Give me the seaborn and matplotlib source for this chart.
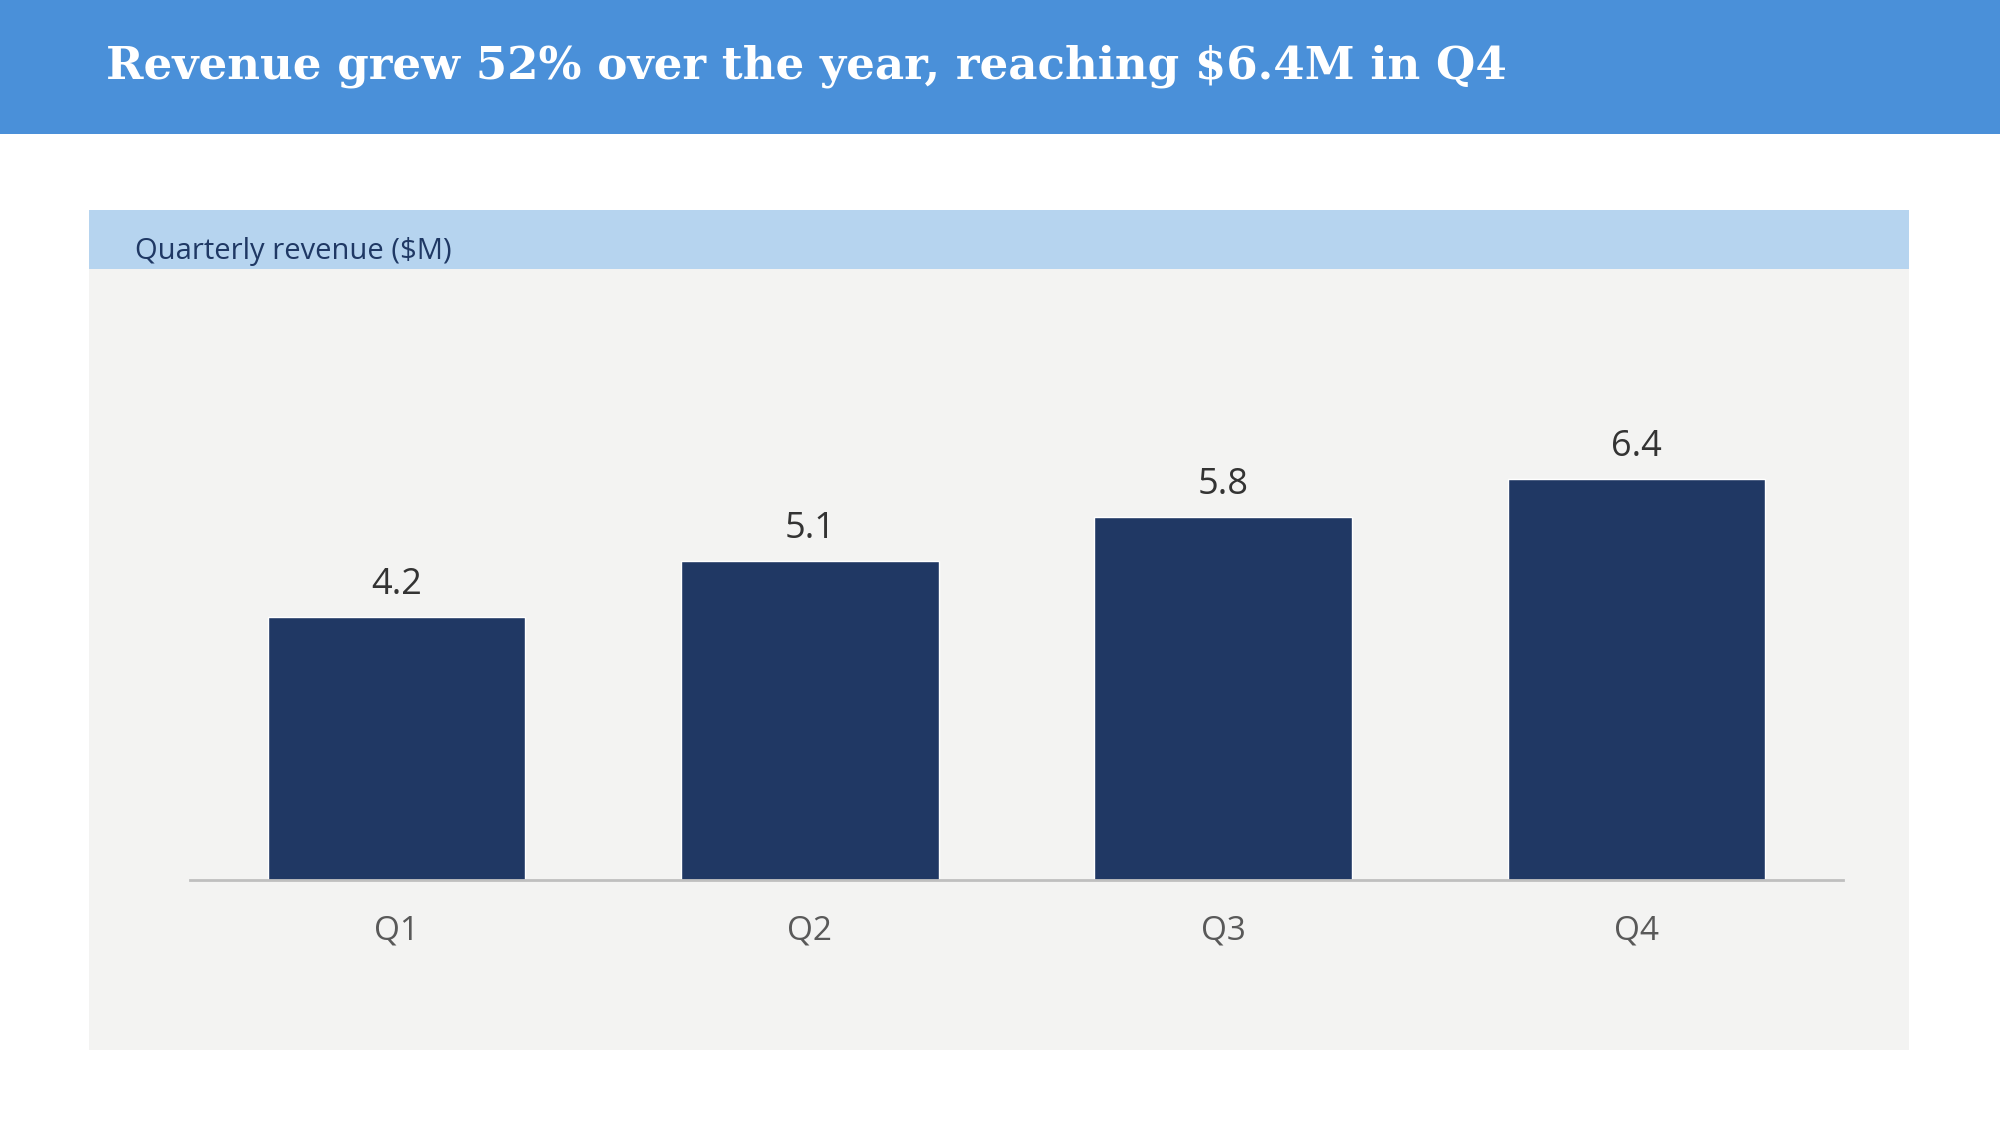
import numpy as np
import pandas as pd
import matplotlib
matplotlib.use("Agg")
import matplotlib.pyplot as plt
from matplotlib.patches import Rectangle
import seaborn as sns

# data
quarters = ["Q1", "Q2", "Q3", "Q4"]
revenue = [4.2, 5.1, 5.8, 6.4]

title = "Revenue grew 52% over the year, reaching $6.4M in Q4"
subtitle = "Quarterly revenue ($M)"

W, H = 2000, 1125

sns.set_theme(style="white")
plt.rcParams['font.family'] = ['Open Sans', 'DejaVu Sans']

fig = plt.figure(figsize=(20, 11.25), dpi=100)
fig.patch.set_facecolor("white")

def box(x0, y0, x1, y1, color):
    # pixel box (top-left origin) -> figure coords
    fig.add_artist(Rectangle((x0 / W, 1 - y1 / H), (x1 - x0) / W, (y1 - y0) / H,
                             transform=fig.transFigure, facecolor=color,
                             edgecolor="none", zorder=0))

# header band + panel
box(0, 0, W, 134, "#4A90D9")
box(89, 210, 1909, 1050, "#F3F3F2")
box(89, 210, 1909, 269, "#B6D4EF")

fig.text(106 / W, 1 - 66 / H, title, color="white", fontsize=32.5,
         fontweight="bold", family=["DejaVu Serif"], va="center", ha="left")
fig.text(135 / W, 1 - 251 / H, subtitle, color="#1F3864", fontsize=21,
         va="center", ha="left")

# axes: x from 190 to 1843 px, baseline at 880 px
ax_top, ax_bot = 300, 880
ax = fig.add_axes([190 / W, 1 - ax_bot / H, (1843 - 190) / W, (ax_bot - ax_top) / H])
ax.set_facecolor("none")

df = pd.DataFrame({"quarter": quarters, "revenue": revenue})
sns.barplot(data=df, x="quarter", y="revenue", color="#203864", width=0.623,
            saturation=1, ax=ax)

ax.set_xlim(-0.5, 3.5)
ax.set_ylim(0, (ax_bot - ax_top) / 62.6)
ax.set_xlabel("")
ax.set_ylabel("")
ax.set_yticks([])
for s in ["top", "left", "right"]:
    ax.spines[s].set_visible(False)
ax.spines["bottom"].set_color("#BFBFBF")
ax.spines["bottom"].set_linewidth(2)
ax.tick_params(axis="x", length=0, pad=25, labelsize=24, labelcolor="#595959")

for i, v in enumerate(revenue):
    ax.annotate(f"{v:.1f}", (i, v), xytext=(0, 10), textcoords="offset points",
                ha="center", va="bottom", fontsize=26, color="#333333")

fig.savefig("out.png", dpi=100, facecolor=fig.get_facecolor())
